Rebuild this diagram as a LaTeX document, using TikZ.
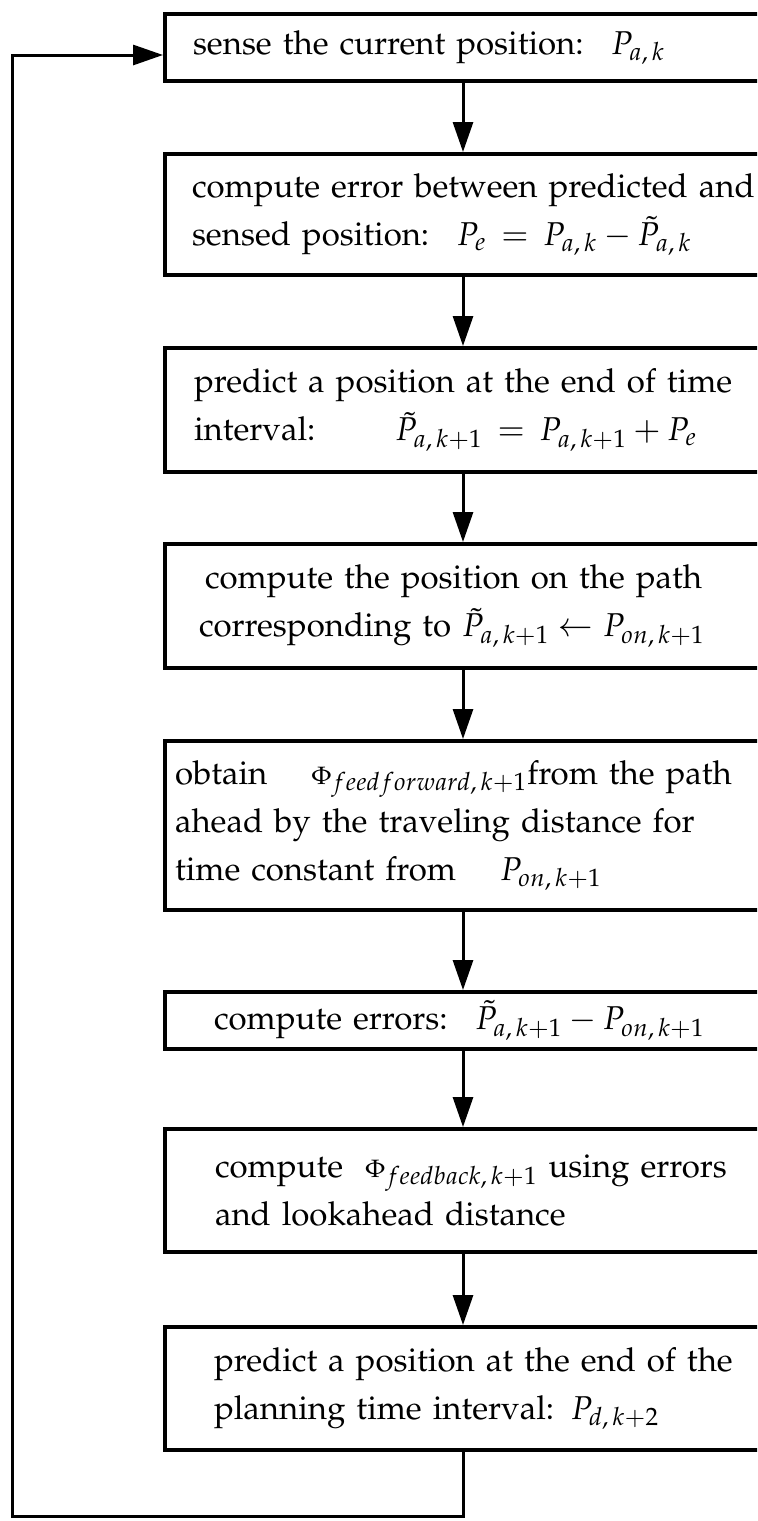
\documentclass[tikz,border=0pt]{standalone}
\usepackage[T1]{fontenc}
\usepackage{mathpazo}
\usetikzlibrary{arrows.meta}
\begin{document}
\begin{tikzpicture}[x=0.5pt,y=-0.5pt,
  box/.style={draw, line width=2pt, anchor=north west, align=left,
    text width=300pt, inner ysep=0pt, font=\fontsize{16.5}{24}\selectfont},
  arr/.style={line width=1.5pt, line join=miter, -{Triangle[length=15pt,width=10pt]}}]
\useasboundingbox (0,0) rectangle (757,1521);
\clip (0,0) rectangle (757,1521);
\coordinate (ax) at (463,0);
\node[box, inner xsep=14pt, minimum height=33.5pt] (b1) at (163,12)
  {sense the current position: \ $P_{a,\,k}$};
\node[box, inner xsep=13.5pt, minimum height=60.5pt] (b2) at (163,152)
  {compute error between predicted and\\ sensed position: \ $P_e \,=\, P_{a,\,k} - \tilde{P}_{a,\,k}$};
\node[box, inner xsep=14.5pt, minimum height=62pt] (b3) at (163,346)
  {predict a position at the end of time\\ interval:\hspace{40pt}$\tilde{P}_{a,\,k+1} \,=\, P_{a,\,k+1} + P_e$};
\node[box, inner xsep=17pt, minimum height=62pt] (b4) at (163,542)
  {\hspace{3pt}compute the position on the path\\ corresponding to $\tilde{P}_{a,\,k+1} \leftarrow P_{on,\,k+1}$};
\node[box, inner xsep=5pt, minimum height=84.5pt] (b5) at (163,739)
  {obtain \quad ${\scriptstyle\Phi}_{feedforward,\,k+1}$from the path\\ ahead by the traveling distance for\\ time constant from \quad $P_{on,\,k+1}$};
\node[box, inner xsep=24.5pt, minimum height=28.5pt] (b6) at (163,990)
  {compute errors: \ $\tilde{P}_{a,\,k+1} - P_{on,\,k+1}$};
\node[box, inner xsep=25pt, minimum height=61.5pt] (b7) at (163,1127)
  {compute \ ${\scriptstyle\Phi}_{feedback,\,k+1}$ using errors\\ and lookahead distance};
\node[box, inner xsep=24.5pt, minimum height=61.5pt] (b8) at (163,1325)
  {predict a position at the end of the\\ planning time interval: $P_{d,\,k+2}$};
\draw[arr] (b1.south -| ax) -- (b2.north -| ax);
\draw[arr] (b2.south -| ax) -- (b3.north -| ax);
\draw[arr] (b3.south -| ax) -- (b4.north -| ax);
\draw[arr] (b4.south -| ax) -- (b5.north -| ax);
\draw[arr] (b5.south -| ax) -- (b6.north -| ax);
\draw[arr] (b6.south -| ax) -- (b7.north -| ax);
\draw[arr] (b7.south -| ax) -- (b8.north -| ax);
\coordinate (fb1) at (463,1516);
\coordinate (fb2) at (12,1516);
\coordinate (fb3) at (12,55);
\draw[arr] (b8.south -| ax) -- (fb1) -- (fb2) -- (fb3) -- (b1.west |- fb3);
\end{tikzpicture}
\end{document}
